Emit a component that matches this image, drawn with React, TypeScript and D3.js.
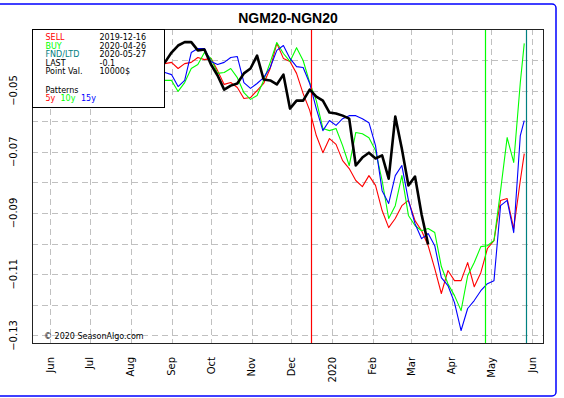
import { useEffect, useRef } from 'react'
import * as d3 from 'd3'

// sample dates shared by the seasonal patterns
const patternDates = [
  '2019-08-22', '2019-08-27', '2019-09-01', '2019-09-06', '2019-09-11', '2019-09-16',
  '2019-09-21', '2019-09-26', '2019-10-01', '2019-10-06', '2019-10-11', '2019-10-16',
  '2019-10-21', '2019-10-26', '2019-10-31', '2019-11-05', '2019-11-10', '2019-11-15',
  '2019-11-20', '2019-11-25', '2019-11-30', '2019-12-05', '2019-12-10', '2019-12-15',
  '2019-12-20', '2019-12-25', '2019-12-30', '2020-01-04', '2020-01-09', '2020-01-14',
  '2020-01-19', '2020-01-24', '2020-01-29', '2020-02-03', '2020-02-08', '2020-02-13',
  '2020-02-18', '2020-02-23', '2020-02-28', '2020-03-04', '2020-03-09', '2020-03-14',
  '2020-03-19', '2020-03-24', '2020-03-29', '2020-04-03', '2020-04-08', '2020-04-13',
  '2020-04-18', '2020-04-23', '2020-04-28', '2020-05-03', '2020-05-08', '2020-05-13',
  '2020-05-18', '2020-05-23', '2020-05-26',
]

const pattern5y = [
  -0.0408, -0.0412, -0.0408, -0.0428, -0.0412, -0.0408, -0.0392, -0.0399, -0.0395, -0.0435,
  -0.0480, -0.0474, -0.0490, -0.0526, -0.0523, -0.0500, -0.0477, -0.0428, -0.0346, -0.0395,
  -0.0405, -0.0444, -0.0510, -0.0565, -0.0647, -0.0703, -0.0657, -0.0676, -0.0729, -0.0755,
  -0.0794, -0.0814, -0.0778, -0.0810, -0.0892, -0.0948, -0.0918, -0.0876, -0.0859, -0.0925,
  -0.0958, -0.1007, -0.1082, -0.1163, -0.1088, -0.1121, -0.1121, -0.1062, -0.1141, -0.1095,
  -0.1016, -0.0990, -0.0859, -0.0853, -0.0951, -0.0794, -0.0706,
]

const pattern10y = [
  -0.0467, -0.0467, -0.0467, -0.0503, -0.0474, -0.0428, -0.0415, -0.0376, -0.0395, -0.0444,
  -0.0441, -0.0428, -0.0458, -0.0507, -0.0529, -0.0516, -0.0467, -0.0408, -0.0343, -0.0379,
  -0.0405, -0.0360, -0.0402, -0.0474, -0.0533, -0.0624, -0.0631, -0.0624, -0.0680, -0.0745,
  -0.0637, -0.0641, -0.0654, -0.0696, -0.0794, -0.0918, -0.0876, -0.0778, -0.0908, -0.0941,
  -0.0958, -0.0951, -0.0964, -0.1075, -0.1131, -0.1170, -0.1219, -0.1105, -0.1062, -0.1010,
  -0.1007, -0.0990, -0.0827, -0.0654, -0.0735, -0.0474, -0.0346,
]

const pattern15y = [
  -0.0441, -0.0441, -0.0448, -0.0487, -0.0467, -0.0376, -0.0363, -0.0363, -0.0405, -0.0415,
  -0.0408, -0.0392, -0.0389, -0.0474, -0.0493, -0.0477, -0.0458, -0.0425, -0.0369, -0.0353,
  -0.0395, -0.0422, -0.0425, -0.0477, -0.0559, -0.0631, -0.0598, -0.0614, -0.0592, -0.0582,
  -0.0582, -0.0592, -0.0605, -0.0680, -0.0827, -0.0869, -0.0778, -0.0745, -0.0859, -0.0935,
  -0.0984, -0.0967, -0.1007, -0.1111, -0.1137, -0.1193, -0.1284, -0.1212, -0.1186, -0.1154,
  -0.1131, -0.1121, -0.0876, -0.0859, -0.0964, -0.0647, -0.0598,
]

// current contract, runs until mid March
const currentValues = [
  -0.0408, -0.0408, -0.0376, -0.0353, -0.0342, -0.0342, -0.0369, -0.0366, -0.0415, -0.0451,
  -0.0497, -0.0484, -0.0477, -0.0444, -0.0428, -0.0386, -0.0464, -0.0467, -0.0480, -0.0448,
  -0.0559, -0.0533, -0.0533, -0.0497, -0.0520, -0.0533, -0.0572, -0.0575, -0.0582, -0.0592,
  -0.0745, -0.0719, -0.0703, -0.0722, -0.0712, -0.0788, -0.0585, -0.0690, -0.0810, -0.0781,
  -0.0905, -0.1003,
]

const monthLabels = ['Jun', 'Jul', 'Aug', 'Sep', 'Oct', 'Nov', 'Dec', '2020', 'Feb', 'Mar', 'Apr', 'May', 'Jun']
const yTicks = [-0.04, -0.05, -0.06, -0.07, -0.08, -0.09, -0.1, -0.11, -0.12, -0.13]
const yLabelTicks = [-0.05, -0.07, -0.09, -0.11, -0.13]

const events = [
  { label: 'SELL', date: '2019-12-16', color: '#ff0000' },
  { label: 'BUY', date: '2020-04-26', color: '#00ff00' },
  { label: 'FND/LTD', date: '2020-05-27', color: '#008080' },
]
const infoRows = [
  { label: 'LAST', value: '-0.1' },
  { label: 'Point Val.', value: '10000$' },
]
const patterns = [
  { label: '5y', values: pattern5y, color: '#ff0000' },
  { label: '10y', values: pattern10y, color: '#00ff00' },
  { label: '15y', values: pattern15y, color: '#0000ff' },
]

export default function App() {
  const svgRef = useRef<SVGSVGElement>(null)

  useEffect(() => {
    if (!svgRef.current) return
    const svg = d3.select(svgRef.current)
    svg.selectAll('*').remove()

    const parse = d3.timeParse('%Y-%m-%d')
    const left = 32, right = 544, top = 29.3, bottom = 344

    const x = d3.scaleTime()
      .domain([new Date(2019, 4, 18), new Date(2020, 5, 10)])
      .range([left, right])
    const y = d3.scaleLinear()
      .domain([-0.1328, -0.03])
      .range([bottom, top])

    svg.append('rect').attr('width', 564).attr('height', 398).attr('fill', 'white')

    // outer blue frame
    svg.append('rect')
      .attr('x', -10).attr('y', 4).attr('width', 566).attr('height', 392)
      .attr('rx', 4)
      .attr('fill', 'none')
      .attr('stroke', '#0000ff')
      .attr('stroke-width', 1.5)

    svg.append('text')
      .attr('x', 288).attr('y', 23)
      .attr('text-anchor', 'middle')
      .attr('font-family', 'Liberation Sans')
      .attr('font-weight', 'bold')
      .attr('font-size', 14)
      .text('NGM20-NGN20')

    // grid
    const grid = svg.append('g')
      .attr('stroke', '#c0c0c0')
      .attr('stroke-dasharray', '6,4')
      .attr('shape-rendering', 'crispEdges')
    grid.selectAll('line.h').data(yTicks).join('line')
      .attr('class', 'h')
      .attr('x1', left).attr('x2', right)
      .attr('y1', d => Math.round(y(d)) + 0.5).attr('y2', d => Math.round(y(d)) + 0.5)

    const months = d3.timeMonth.range(new Date(2019, 5, 1), new Date(2020, 5, 2))
    grid.selectAll('line.v').data(months).join('line')
      .attr('class', 'v')
      .attr('x1', d => Math.round(x(d)) + 0.5).attr('x2', d => Math.round(x(d)) + 0.5)
      .attr('y1', top).attr('y2', bottom)

    // y labels
    svg.append('g').selectAll('text').data(yLabelTicks).join('text')
      .attr('transform', d => `translate(13.5,${y(d)}) rotate(-90)`)
      .attr('text-anchor', 'middle')
      .attr('dy', '0.35em')
      .attr('font-size', 10)
      .attr('font-family', 'DejaVu Sans')
      .text(d => d3.format('.2f')(d))

    // month labels
    svg.append('g').selectAll('text').data(months).join('text')
      .attr('transform', d => `translate(${x(d)},357) rotate(-90)`)
      .attr('text-anchor', 'end')
      .attr('dy', '0.35em')
      .attr('font-size', 10)
      .attr('font-family', 'DejaVu Sans')
      .text((d, i) => monthLabels[i])

    const dates = patternDates.map(d => parse(d)!)
    const line = d3.line<number>()
      .x((d, i) => x(dates[i]))
      .y(d => y(d))

    patterns.forEach(p => {
      svg.append('path')
        .datum(p.values)
        .attr('fill', 'none')
        .attr('stroke', p.color)
        .attr('stroke-width', 1.1)
        .attr('stroke-linejoin', 'round')
        .attr('d', line)
    })

    // event lines (sell / buy / first notice)
    events.forEach(e => {
      const ex = Math.round(x(parse(e.date)!)) + 0.5
      svg.append('line')
        .attr('x1', ex).attr('x2', ex)
        .attr('y1', top).attr('y2', bottom)
        .style('stroke', e.color)
        .style('stroke-width', '1.2px')
    })

    svg.append('path')
      .datum(currentValues)
      .attr('fill', 'none')
      .attr('stroke', '#000')
      .attr('stroke-width', 2.6)
      .attr('stroke-linejoin', 'round')
      .attr('d', line)

    // plot frame
    svg.append('rect')
      .attr('x', left + 0.5).attr('y', Math.round(top) + 0.5)
      .attr('width', right - left - 1).attr('height', bottom - Math.round(top) - 1)
      .attr('fill', 'none')
      .attr('stroke', '#222')
      .attr('shape-rendering', 'crispEdges')

    // info box
    const box = svg.append('g').attr('font-family', 'DejaVu Sans').attr('font-size', 8)
    box.append('rect')
      .attr('x', left + 0.5).attr('y', Math.round(top) + 0.5)
      .attr('width', 132).attr('height', 78)
      .attr('fill', 'white')
      .attr('stroke', '#000')
      .attr('shape-rendering', 'crispEdges')

    const rows = [
      ...events.map(e => ({ label: e.label, value: e.date, color: e.color })),
      ...infoRows.map(r => ({ ...r, color: '#000' })),
    ]
    rows.forEach((r, i) => {
      const ty = 40 + i * 8.5
      box.append('text').attr('x', 45.5).attr('y', ty).attr('fill', r.color).text(r.label)
      box.append('text').attr('x', 99.5).attr('y', ty).attr('fill', '#000').text(r.value)
    })
    box.append('text').attr('x', 45.5).attr('y', 92.5).text('Patterns')
    const patX = [45.5, 60.5, 81]
    patterns.forEach((p, i) => {
      box.append('text').attr('x', patX[i]).attr('y', 101).attr('fill', p.color).text(p.label)
    })

    svg.append('text')
      .attr('x', 44).attr('y', 339)
      .attr('font-family', 'DejaVu Sans')
      .attr('font-size', 8)
      .text('© 2020 SeasonAlgo.com')
  }, [])

  return (
    <svg
      ref={svgRef}
      width={564}
      height={398}
      style={{ position: 'absolute', left: 0, top: 0 }}
    />
  )
}
